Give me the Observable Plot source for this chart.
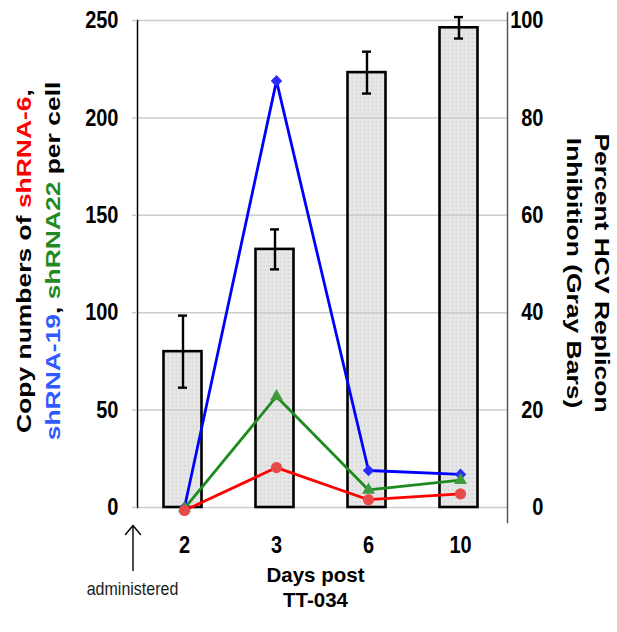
<!DOCTYPE html>
<html><head><meta charset="utf-8">
<script src="https://cdn.jsdelivr.net/npm/d3@7"></script>
<script src="https://cdn.jsdelivr.net/npm/@observablehq/plot@0.6"></script>
<style>html,body{margin:0;padding:0;background:#fff;}</style>
</head><body><div id="chart"></div>
<script>
// ---- data ----
const days = ["2", "3", "6", "10"];
const inhibition = [32, 53, 89.3, 98.5];        // percent (gray bars, right axis)
const inhibitionErr = [7.4, 4.1, 4.3, 2.2];
const shRNA6 = [-1.5, 20.5, 4, 7];              // copy numbers (left axis)
const shRNA19 = [0, 219, 19, 17];
const shRNA22 = [-0.5, 57, 9, 14];
const leftTicks = [0, 50, 100, 150, 200, 250];
const rightTicks = [0, 20, 40, 60, 80, 100];
const leftTitle1 = ["Copy numbers of ", "shRNA-6", ","];
const leftTitle2 = ["shRNA-19", ", ", "shRNA22", " per cell"];
const rightTitle1 = "Percent HCV Replicon";
const rightTitle2 = "Inhibition (Gray Bars)";
const xTitle = "Days post\nTT-034";
const noteText = "administered";
const pctToCopies = 250 / 100;

// ---- styles ----
const FONT = "'Liberation Sans', Arial, Helvetica, sans-serif";
const C = {red: "#ff0000", blue: "#0000ff", green: "#1f8a1f", blueText: "#2f5bff"};

const bars = days.map((day, i) => ({day, pct: inhibition[i], err: inhibitionErr[i]}));
const series = [
  {values: shRNA19, stroke: C.blue, fill: "#2a2aff", symbol: "diamond2", r: 5.2},
  {values: shRNA22, stroke: C.green, fill: "#3f9a3f", symbol: "triangle", r: 4.8},
  {values: shRNA6, stroke: C.red, fill: "#e84a4a", symbol: "circle", r: 5.6}
];

const seriesMarks = series.flatMap(s => {
  const pts = days.map((day, i) => ({day, v: s.values[i]}));
  return [
    Plot.line(pts, {x: "day", y: "v", stroke: s.stroke, strokeWidth: 2.8}),
    Plot.dot(pts, {x: "day", y: "v", symbol: s.symbol, r: s.r, fill: s.fill, stroke: "none"})
  ];
});

let arrowMark;
const arrowOpts = {frameAnchor: "bottom-left", dx: -4.5, dy: 63, length: 45, rotate: 0, anchor: "start", stroke: "#000", strokeWidth: 1.4};
try {
  arrowMark = Plot.vector([0], {...arrowOpts, shape: {draw(ctx, l) {
    ctx.moveTo(0, 0); ctx.lineTo(0, -l);
    ctx.moveTo(-7.5, -l + 9); ctx.lineTo(0, -l); ctx.lineTo(7.5, -l + 9);
  }}});
} catch (e) {
  arrowMark = Plot.vector([0], {...arrowOpts, shape: "arrow"});
}

const barDx = -1.5;
const svg = Plot.plot({
  width: 617, height: 632,
  marginLeft: 137, marginRight: 110, marginTop: 20, marginBottom: 125,
  style: {fontFamily: FONT, fontSize: "20px", fontWeight: "bold", color: "#000", background: "#fff", overflow: "visible"},
  x: {type: "band", domain: days, paddingInner: 0.59, paddingOuter: 0.295},
  y: {domain: [0, 250]},
  marks: [
    Plot.barY(bars, {x: "day", y: d => d.pct * pctToCopies, fill: "url(#dots)", dx: barDx}),
    Plot.gridY(leftTicks, {stroke: "#cccccc", strokeOpacity: 1, strokeWidth: 1.5}),
    Plot.barY(bars, {x: "day", y: d => d.pct * pctToCopies, fill: "none", stroke: "#000", strokeWidth: 2.6, dx: barDx}),
    Plot.ruleX(bars, {x: "day", y1: d => (d.pct - d.err) * pctToCopies, y2: d => (d.pct + d.err) * pctToCopies, stroke: "#000", strokeWidth: 2.4, dx: barDx}),
    Plot.tickY(bars, {x: "day", y: d => (d.pct + d.err) * pctToCopies, insetLeft: 14.5, insetRight: 14.5, stroke: "#000", strokeWidth: 2.4, dx: barDx}),
    Plot.tickY(bars, {x: "day", y: d => (d.pct - d.err) * pctToCopies, insetLeft: 14.5, insetRight: 14.5, stroke: "#000", strokeWidth: 2.4, dx: barDx}),
    Plot.frame({anchor: "left", stroke: "#000", strokeWidth: 1.5}),
    Plot.frame({anchor: "right", stroke: "#555", strokeWidth: 1.5, insetTop: -8, insetBottom: -15}),
    Plot.axisY(leftTicks, {anchor: "left", tickSize: 5, tickPadding: 14, stroke: "#cccccc", strokeWidth: 1.5, fill: "#000", label: null, fontSize: 20}),
    Plot.axisY(rightTicks.map(p => p * pctToCopies), {anchor: "right", tickFormat: d => d / pctToCopies, tickSize: 0, tickPadding: 36, textAnchor: "end", fill: "#000", label: null, fontSize: 20}),
    Plot.axisX({anchor: "bottom", tickSize: 0, tickPadding: 30, fill: "#000", label: null, fontSize: 20}),
    ...seriesMarks,
    Plot.text([xTitle], {frameAnchor: "bottom", text: d => d, dx: -7, dy: 99, lineHeight: 1.22, fontSize: 20.5, fontWeight: "bold", fill: "#000"}),
    Plot.text([noteText], {frameAnchor: "bottom-left", textAnchor: "middle", text: d => d, dx: -5, dy: 87, fontSize: 16, fontWeight: "normal", fill: "#1a1a1a"}),
    arrowMark
  ]
});

document.getElementById("chart").append(svg);
const sel = d3.select(svg);

// dotted fill pattern for the gray bars
const defs = sel.insert("defs", ":first-child");
const pat = defs.append("pattern").attr("id", "dots").attr("width", 4).attr("height", 4).attr("patternUnits", "userSpaceOnUse");
pat.append("rect").attr("width", 4).attr("height", 4).attr("fill", "#e7e7e7");
pat.append("circle").attr("cx", 2).attr("cy", 2).attr("r", 0.9).attr("fill", "#d3d3d3");

// vertical stretch of horizontal texts (reference is stretched)
function stretch(el, sx, sy) {
  const b = el.getBBox();
  const cx = b.x + b.width / 2, cy = b.y + b.height / 2;
  const t = el.getAttribute("transform") || "";
  el.setAttribute("transform", `${t} translate(${cx},${cy}) scale(${sx},${sy}) translate(${-cx},${-cy})`);
}
svg.querySelectorAll('g[aria-label*="tick label"] text').forEach(el => stretch(el, 1, 1.18));
svg.querySelectorAll("text").forEach(el => { if (el.textContent === noteText) stretch(el, 1, 1.15); });

// rotated axis titles
function title(x, y, rot, parts, colors) {
  const t = sel.append("text")
    .attr("transform", `translate(${x},${y}) rotate(${rot}) scale(1.26,1)`)
    .attr("text-anchor", "middle").attr("font-family", FONT)
    .attr("font-size", 21).attr("font-weight", "bold");
  parts.forEach((s, i) => t.append("tspan").attr("fill", colors[i]).text(s));
}
title(31, 261, -90, leftTitle1, ["#000", C.red, "#000"]);
title(60, 261, -90, leftTitle2, [C.blueText, "#000", C.green, "#000"]);
title(595, 273, 90, [rightTitle1], ["#000"]);
title(567, 273, 90, [rightTitle2], ["#000"]);
</script>
</body></html>
